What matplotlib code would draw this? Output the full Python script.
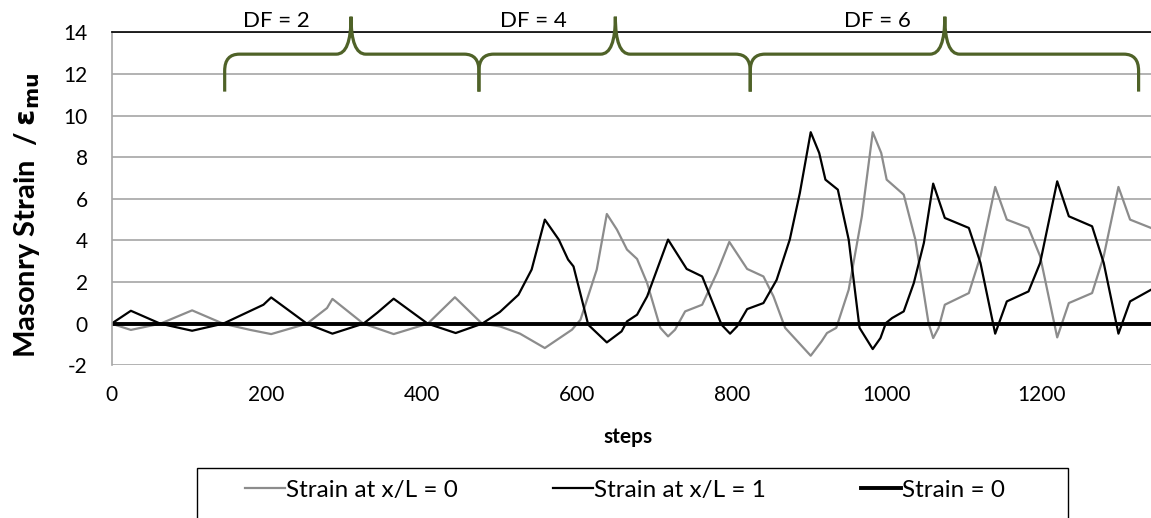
import matplotlib
matplotlib.use("Agg")
import matplotlib.pyplot as plt
from matplotlib.path import Path
from matplotlib.patches import PathPatch, Rectangle
from matplotlib.lines import Line2D

plt.rcParams['font.family'] = ['Lato', 'DejaVu Sans']
plt.rcParams['mathtext.fontset'] = 'dejavusans'
plt.rcParams['axes.unicode_minus'] = False

# strain history at the two wall ends
gray_steps = [0, 25, 63, 104, 144, 179, 206, 252, 278, 285,
              325, 364, 408, 443, 478, 501, 527, 559, 594, 605,
              626, 639, 652, 665, 678, 691, 708, 718, 727, 740,
              762, 781, 797, 820, 841, 854, 869, 902, 916, 923,
              935, 951, 968, 982, 993, 1000, 1022, 1037, 1054, 1060,
              1067, 1075, 1106, 1121, 1140, 1155, 1183, 1198, 1220, 1235,
              1265, 1280, 1299, 1314, 1341]
gray_vals = [0, -0.3, 0, 0.64, 0, -0.3, -0.5, 0, 0.75, 1.19,
             0, -0.5, 0, 1.27, 0, -0.13, -0.48, -1.17, -0.29, 0.19,
             2.6, 5.27, 4.52, 3.56, 3.11, 1.95, -0.2, -0.61, -0.29, 0.59,
             0.91, 2.44, 3.93, 2.63, 2.27, 1.31, -0.2, -1.54, -0.85, -0.45,
             -0.2, 1.63, 5.16, 9.2, 8.2, 6.92, 6.2, 4.04, 0.03, -0.69,
             -0.2, 0.91, 1.47, 3.24, 6.57, 5.0, 4.6, 3.24, -0.66, 0.99,
             1.47, 3.24, 6.57, 5.0, 4.6]

black_steps = [0, 25, 63, 104, 144, 188, 196, 206, 252, 285,
               325, 343, 364, 408, 444, 478, 501, 525, 542, 559,
               577, 589, 596, 615, 639, 658, 665, 678, 691, 718,
               742, 762, 787, 798, 807, 820, 841, 858, 875, 888,
               902, 913, 921, 937, 951, 965, 982, 992, 999, 1007,
               1022, 1035, 1048, 1060, 1075, 1106, 1121, 1140, 1155, 1183,
               1198, 1220, 1235, 1265, 1280, 1299, 1314, 1341]
black_vals = [0, 0.62, 0, -0.34, 0, 0.77, 0.91, 1.26, 0, -0.48,
              0, 0.53, 1.2, 0, -0.45, 0, 0.56, 1.39, 2.6, 5.0,
              4.04, 3.08, 2.75, -0.05, -0.9, -0.37, 0.11, 0.43, 1.31, 4.04,
              2.63, 2.27, -0.05, -0.48, -0.13, 0.7, 0.99, 2.1, 4.04, 6.28,
              9.2, 8.2, 6.92, 6.44, 4.04, -0.2, -1.22, -0.69, 0.03, 0.27,
              0.59, 1.95, 3.88, 6.73, 5.08, 4.6, 2.92, -0.48, 1.07, 1.55,
              2.92, 6.84, 5.16, 4.68, 2.92, -0.48, 1.07, 1.63]

zero_steps = [0, 1341]
zero_vals = [0, 0]

# ductility factor ranges: start, end, brace tip
df_labels = ['DF = 2', 'DF = 4', 'DF = 6']
df_ranges = [(146, 474, 309), (474, 824, 650), (824, 1325, 1075)]
df_label_x = [213, 544, 988]

GREEN = '#4F6228'
GRID = '#A6A6A6'


def draw_brace(ax, x0, x1, xc, y_mid=12.95, y_end=11.15, y_tip=14.75, rx=19, ry=0.8):
    verts = [(x0, y_end), (x0, y_mid - ry), (x0, y_mid), (x0 + rx, y_mid),
             (xc - rx, y_mid), (xc, y_mid), (xc, y_tip),
             (xc, y_mid), (xc + rx, y_mid),
             (x1 - rx, y_mid), (x1, y_mid), (x1, y_mid - ry), (x1, y_end)]
    codes = [Path.MOVETO, Path.LINETO, Path.CURVE3, Path.CURVE3,
             Path.LINETO, Path.CURVE3, Path.CURVE3,
             Path.CURVE3, Path.CURVE3,
             Path.LINETO, Path.CURVE3, Path.CURVE3, Path.LINETO]
    patch = PathPatch(Path(verts, codes), facecolor='none', edgecolor=GREEN,
                      lw=2.3, clip_on=False, zorder=5, capstyle='butt')
    ax.add_patch(patch)


fig = plt.figure(figsize=(11.51, 5.18), dpi=100)
ax = fig.add_axes([111.5 / 1151, (518 - 365.3) / 518, 1 - 111.5 / 1151, 333 / 518])

ax.plot(gray_steps, gray_vals, color='#8C8C8C', lw=1.6, label='Strain at x/L = 0')
ax.plot(black_steps, black_vals, color='black', lw=1.6, label='Strain at x/L = 1')
ax.plot(zero_steps, zero_vals, color='black', lw=2.8, label='Strain = 0')

ax.set_xlim(0, 1341)
ax.set_ylim(-2, 14)
ax.set_xticks(range(0, 1201, 200))
ax.set_yticks(range(-2, 15, 2))
ax.grid(axis='y', color=GRID, lw=1.2)
ax.set_axisbelow(True)
ax.tick_params(length=0, labelsize=15)
ax.tick_params(axis='x', pad=14)
ax.tick_params(axis='y', pad=17)

for side in ['right', 'bottom']:
    ax.spines[side].set_visible(False)
ax.spines['left'].set_color(GRID)
ax.spines['left'].set_linewidth(1.2)
ax.spines['top'].set_color('black')
ax.spines['top'].set_linewidth(1.2)

ax.set_xlabel('steps', fontsize=15, fontweight='bold')
ax.xaxis.set_label_coords(0.497, -0.185)
ax.set_ylabel(r'Masonry Strain  / $\mathbf{\varepsilon_{mu}}$', fontsize=21, fontweight='bold')
ax.yaxis.set_label_coords(-0.067, 0.45)

for (x0, x1, xc), lbl, lx in zip(df_ranges, df_labels, df_label_x):
    draw_brace(ax, x0, x1, xc)
    ax.text(lx, 14.55, lbl, fontsize=16, ha='center', va='center', clip_on=False)

handles = [Line2D([], [], color='#8C8C8C', lw=1.6),
           Line2D([], [], color='black', lw=1.6),
           Line2D([], [], color='black', lw=2.8)]
labels = ['Strain at x/L = 0', 'Strain at x/L = 1', 'Strain = 0']
fig.legend(handles, labels, loc='center', bbox_to_anchor=(625 / 1151, 0.054),
           ncol=3, frameon=False, fontsize=17.5, handlelength=1.65,
           handletextpad=0.05, columnspacing=3.9)
fig.add_artist(Rectangle((197 / 1151, -0.2), (1068 - 197) / 1151, 0.2 + 50 / 518,
                         transform=fig.transFigure, fill=False,
                         edgecolor='black', lw=1.0))

fig.savefig('out.png', dpi=100)
